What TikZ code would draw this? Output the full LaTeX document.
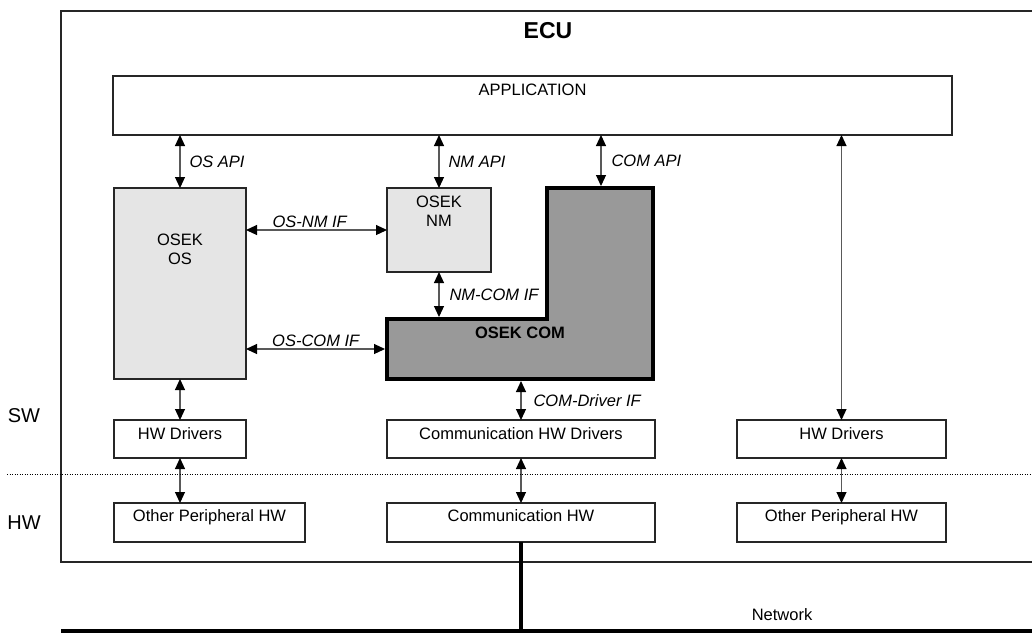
\documentclass[tikz,border=0pt]{standalone}
\usepackage{fontspec}
\setmainfont{Liberation Sans}
\usetikzlibrary{arrows.meta,positioning,calc}

\begin{document}
\begin{tikzpicture}[x=1pt,y=-1pt,
    blk/.style={draw=black!85,line width=1.6pt,inner sep=0pt,outer sep=0pt,anchor=north west},
    boxtxt/.style={anchor=north,inner sep=0pt,text height=12pt,align=center,font=\fontsize{16.5}{19}\selectfont},
    txt/.style={inner sep=0pt,font=\fontsize{16.5}{19}\selectfont},
    iflbl/.style={inner sep=2pt,font=\fontsize{16.5}{19}\selectfont\itshape},
    biarr/.style={draw=black!65,line width=1.1pt,{Triangle[length=11pt,width=10pt,color=black]}-{Triangle[length=11pt,width=10pt,color=black]}},
    bus/.style={line width=4pt}]
    \useasboundingbox (0,0) rectangle (1032,633);

    % ECU frame
    \node[blk,minimum width=974pt,minimum height=551pt,
      label={[boxtxt,font=\fontsize{23}{26}\selectfont\bfseries,text height=17pt,yshift=-10pt]north:ECU}] (ecu) at (61,11) {};

    % software layer
    \node[blk,minimum width=839pt,minimum height=59pt,label={[boxtxt,yshift=-7pt]north:APPLICATION}] (app) at (113,76) {};
    \node[blk,fill=black!10,minimum width=132pt,minimum height=191pt,label={[boxtxt,text height=31pt,yshift=-45pt]north:OSEK\\OS}] (os) at (114,188) {};
    \node[blk,fill=black!10,minimum width=104pt,minimum height=84pt,label={[boxtxt,text height=31pt,yshift=-7pt]north:OSEK\\NM}] (nm) at (387,188) {};

    % OSEK COM (L shape)
    \coordinate (comA) at (387,319);
    \coordinate (comB) at (547,319);
    \coordinate (comC) at (547,188);
    \coordinate (comD) at (653,188);
    \coordinate (comE) at (653,379);
    \coordinate (comF) at (387,379);
    \draw[fill=black!40,line width=3.5pt] (comA) -- (comB) -- (comC) -- (comD) -- (comE) -- (comF) -- cycle;
    \node[txt,font=\fontsize{16.5}{19}\selectfont\bfseries] (com) at (520,333) {OSEK COM};
    \coordinate (comapi) at (601,186);
    \coordinate (comos) at (385,349);
    \coordinate (comnm) at (436,317);
    \coordinate (comdrvif) at (518,381);

    % drivers and hardware
    \node[blk,minimum width=132pt,minimum height=38pt,label={[boxtxt,yshift=-7pt]north:HW Drivers}] (hwdrvl) at (114,420) {};
    \node[blk,minimum width=268pt,minimum height=38pt,label={[boxtxt,yshift=-7pt]north:Communication HW Drivers}] (commdrv) at (387,420) {};
    \node[blk,minimum width=209pt,minimum height=38pt,label={[boxtxt,yshift=-7pt]north:HW Drivers}] (hwdrvr) at (737,420) {};
    \node[blk,minimum width=191pt,minimum height=39pt,label={[boxtxt,yshift=-6pt]north:Other Peripheral HW}] (periphl) at (114,503) {};
    \node[blk,minimum width=268pt,minimum height=39pt,label={[boxtxt,yshift=-6pt]north:Communication HW}] (commhw) at (387,503) {};
    \node[blk,minimum width=209pt,minimum height=39pt,label={[boxtxt,yshift=-6pt]north:Other Peripheral HW}] (periphr) at (737,503) {};

    % interfaces
    \draw[biarr] (os.north |- app.south) -- node[iflbl,right=7pt]{OS API} (os.north);
    \draw[biarr] (nm.north |- app.south) -- node[iflbl,right=7pt]{NM API} (nm.north);
    \draw[biarr] (comapi |- app.south) -- node[iflbl,right=8pt]{COM API} (comapi);
    \draw[biarr] (hwdrvr.north |- app.south) -- (hwdrvr.north);
    \draw[biarr] (os.east |- nm.west) -- node[iflbl,anchor=south west,pos=0.17]{OS-NM IF} (nm.west);
    \draw[biarr] (os.east |- comos) -- node[iflbl,anchor=south west,pos=0.17]{OS-COM IF} (comos);
    \draw[biarr] (nm.south) -- node[iflbl,right=8pt]{NM-COM IF} (nm.south |- comnm);
    \draw[biarr] (commdrv.north |- comdrvif) -- node[iflbl,right=10pt]{COM-Driver IF} (commdrv.north);
    \draw[biarr] (os.south) -- (hwdrvl.north);
    \draw[biarr] (hwdrvl.south) -- (hwdrvl.south |- periphl.north);
    \draw[biarr] (commdrv.south) -- (commhw.north);
    \draw[biarr] (hwdrvr.south) -- (periphr.north);

    % SW / HW border
    \coordinate (swl) at (7,474);
    \coordinate (swr) at (1032,474);
    \draw[line width=0.8pt,dash pattern=on 1pt off 1.5pt] (swl) -- (swr);
    \node[txt,font=\fontsize{20}{24}\selectfont] (sw) at (24,416) {SW};
    \node[txt,font=\fontsize{20}{24}\selectfont] (hw) at (24,523) {HW};

    % network bus
    \coordinate (busl) at (61,631);
    \coordinate (busr) at (1036,631);
    \draw[bus] (busl) -- (busr);
    \draw[bus] (commhw.south) -- (commhw.south |- busl);
    \node[txt] (net) at (782,615) {Network};
\end{tikzpicture}
\end{document}
